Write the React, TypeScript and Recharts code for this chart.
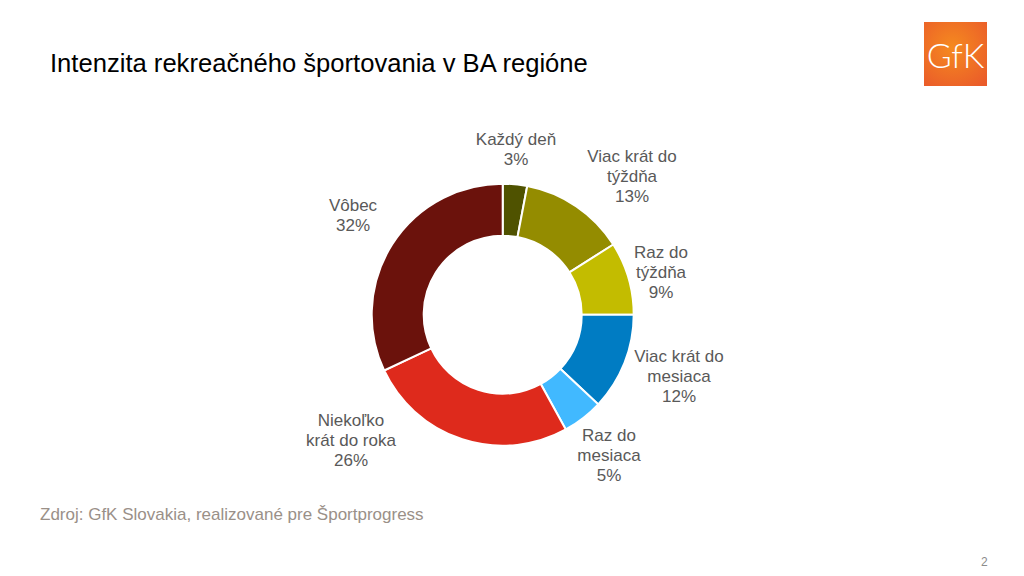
import { PieChart, Pie, Cell } from "recharts"

const CATEGORIES = [
  "Každý deň",
  "Viac krát do týždňa",
  "Raz do týždňa",
  "Viac krát do mesiaca",
  "Raz do mesiaca",
  "Niekoľko krát do roka",
  "Vôbec",
]
const VALUES = [3, 13, 9, 12, 5, 26, 32]
const COLORS = ["#4F5200", "#948C00", "#C3BC00", "#007CC3", "#41B9FF", "#DE2A1C", "#6B120C"]

// label text broken the way the slide does it
const LABEL_LINES = [
  ["Každý deň"],
  ["Viac krát do", "týždňa"],
  ["Raz do", "týždňa"],
  ["Viac krát do", "mesiaca"],
  ["Raz do", "mesiaca"],
  ["Niekoľko", "krát do roka"],
  ["Vôbec"],
]
// center x and first baseline of each label
const LABEL_POS = [
  [516, 145],
  [632, 162],
  [661, 258],
  [679, 362],
  [609, 441],
  [351, 426],
  [353, 211],
]

const data = CATEGORIES.map((name, i) => ({ name, value: VALUES[i] }))
const FONT = "'Liberation Sans', Arial, sans-serif"

function SliceLabel({ index }: { index: number }) {
  const [x, y] = LABEL_POS[index]
  const lines = [...LABEL_LINES[index], `${VALUES[index]}%`]
  return (
    <text x={x} y={y} textAnchor="middle" fontSize={17} fontFamily={FONT} fill="#595959">
      {lines.map((l, i) => (
        <tspan key={i} x={x} dy={i === 0 ? 0 : 19.8}>
          {l}
        </tspan>
      ))}
    </text>
  )
}

function Logo() {
  return (
    <svg width={63} height={64} style={{ position: "absolute", left: 924, top: 22 }}>
      <defs>
        <radialGradient id="gfk" cx="45%" cy="40%" r="75%">
          <stop offset="0%" stopColor="#F58A1F" />
          <stop offset="100%" stopColor="#EA5B2A" />
        </radialGradient>
      </defs>
      <rect width={63} height={64} fill="url(#gfk)" />
      <text x={31.5} y={46} textAnchor="middle" fontSize={34} fontFamily="Lato, sans-serif" fontWeight={300} fill="#fff">
        GfK
      </text>
    </svg>
  )
}

export default function App() {
  return (
    <div style={{ position: "absolute", left: 0, top: 0, width: 1024, height: 576, background: "#fff", fontFamily: FONT }}>
      <div style={{ position: "absolute", left: 50, top: 49, fontSize: 25.6, color: "#000", whiteSpace: "nowrap", lineHeight: "28px" }}>
        Intenzita rekreačného športovania v BA regióne
      </div>
      <Logo />
      <PieChart
        width={1024}
        height={576}
        margin={{ top: 0, right: 0, bottom: 0, left: 0 }}
        style={{ position: "absolute", left: 0, top: 0 }}
      >
        <Pie
          data={data}
          dataKey="value"
          nameKey="name"
          cx={502.7}
          cy={314.7}
          outerRadius={131}
          innerRadius={79}
          startAngle={90}
          endAngle={-270}
          stroke="#fff"
          strokeWidth={2}
          isAnimationActive={false}
          labelLine={false}
          label={(props: any) => <SliceLabel index={props.index} />}
        >
          {CATEGORIES.map((c, i) => (
            <Cell key={c} fill={COLORS[i]} />
          ))}
        </Pie>
      </PieChart>
      <div style={{ position: "absolute", left: 40, top: 505, fontSize: 17, color: "#9A9088", whiteSpace: "nowrap", lineHeight: "20px" }}>
        Zdroj: GfK Slovakia, realizované pre Športprogress
      </div>
      <div style={{ position: "absolute", left: 981, top: 555, fontSize: 12, color: "#8C8C8C", lineHeight: "14px" }}>2</div>
    </div>
  )
}
